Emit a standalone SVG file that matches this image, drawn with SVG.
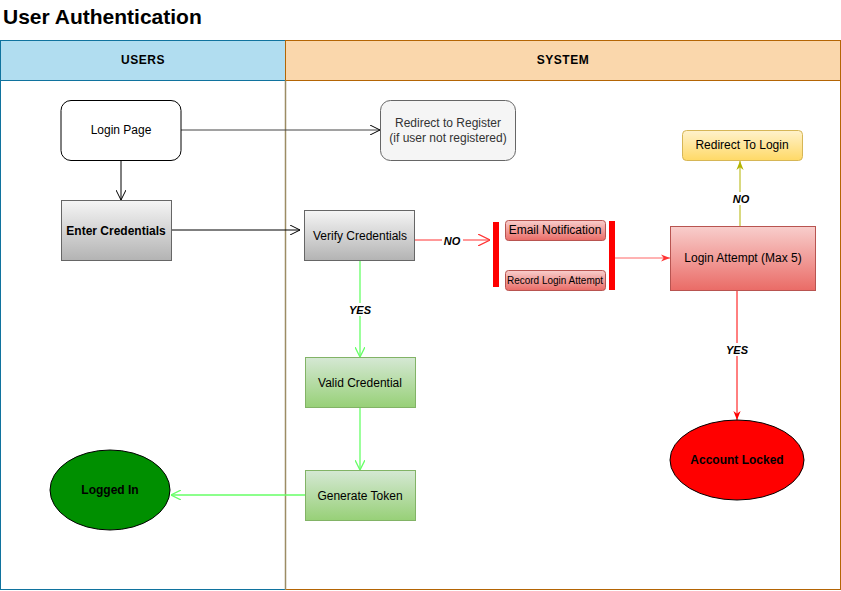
<svg xmlns="http://www.w3.org/2000/svg" width="841" height="591" viewBox="0 0 841 591">
<defs>
<linearGradient id="gGray" x1="0" y1="0" x2="0" y2="1"><stop offset="0" stop-color="#f5f5f5"/><stop offset="1" stop-color="#b3b3b3"/></linearGradient>
<linearGradient id="gRed" x1="0" y1="0" x2="0" y2="1"><stop offset="0" stop-color="#f8cecc"/><stop offset="1" stop-color="#ea6b66"/></linearGradient>
<linearGradient id="gGreen" x1="0" y1="0" x2="0" y2="1"><stop offset="0" stop-color="#d5e8d4"/><stop offset="1" stop-color="#97d077"/></linearGradient>
<linearGradient id="gYellow" x1="0" y1="0" x2="0" y2="1"><stop offset="0" stop-color="#fff2cc"/><stop offset="1" stop-color="#ffd966"/></linearGradient>
<marker id="mBlack" viewBox="0 0 10 10" refX="10" refY="5" markerWidth="10" markerHeight="10" markerUnits="userSpaceOnUse" orient="auto"><path d="M0,0 L10,5 L0,10" fill="none" stroke="#000" stroke-width="1"/></marker>
<marker id="mGreen" viewBox="0 0 10 10" refX="10" refY="5" markerWidth="10" markerHeight="10" markerUnits="userSpaceOnUse" orient="auto"><path d="M0,0 L10,5 L0,10" fill="none" stroke="#66ff66" stroke-width="1.3"/></marker>
<marker id="mRed" viewBox="0 0 10 10" refX="10" refY="5" markerWidth="12" markerHeight="12" markerUnits="userSpaceOnUse" orient="auto"><path d="M0,0 L10,5 L0,10" fill="none" stroke="#ff3333" stroke-width="1"/></marker>
<marker id="mRedF" viewBox="0 0 10 10" refX="10" refY="5" markerWidth="9" markerHeight="9" markerUnits="userSpaceOnUse" orient="auto"><path d="M0,1 L10,5 L0,9 L3,5 Z" fill="#ff3333"/></marker>
<marker id="mRedD" viewBox="0 0 10 10" refX="10" refY="5" markerWidth="9" markerHeight="9" markerUnits="userSpaceOnUse" orient="auto"><path d="M0,1 L10,5 L0,9 L3,5 Z" fill="#ff0000"/></marker>
<marker id="mOlive" viewBox="0 0 10 10" refX="10" refY="5" markerWidth="9" markerHeight="9" markerUnits="userSpaceOnUse" orient="auto"><path d="M0,1 L10,5 L0,9 L3,5 Z" fill="#b3b300"/></marker>
</defs>
<style>
text{font-family:"Liberation Sans",Arial,sans-serif;font-size:12px;fill:#000;text-anchor:middle;dominant-baseline:central}
.b{font-weight:bold}
.lbl{font-weight:bold;font-style:italic;font-size:11px}
.hdr{font-weight:bold;font-size:12px;letter-spacing:0.5px}
.conn{fill:none;stroke-width:1}
.gconn{fill:none;stroke-width:1.3;stroke:#66ff66}
</style>
<rect width="841" height="591" fill="#fff"/>
<text x="3" y="16" style="font-size:21px;font-weight:bold;text-anchor:start">User Authentication</text>

<g id="lane-users">
<rect x="0.5" y="40.5" width="285" height="40" fill="#b1ddf0" stroke="#10739e"/>
<rect x="0.5" y="80.5" width="285" height="509" fill="none" stroke="#10739e"/>
<text x="143" y="60" class="hdr">USERS</text>
</g>
<g id="lane-system">
<rect x="285.5" y="40.5" width="555" height="40" fill="#fad7ac" stroke="#b46504"/>
<rect x="285.5" y="80.5" width="555" height="509" fill="none" stroke="#b46504"/>
<text x="563" y="60" class="hdr">SYSTEM</text>
<line x1="285.5" y1="80.5" x2="285.5" y2="590" stroke="#9c8c64" stroke-width="1.5"/>
</g>

<g id="connectors">
<line class="conn" x1="121" y1="160" x2="121" y2="200" stroke="#000" marker-end="url(#mBlack)"/>
<line class="conn" x1="181" y1="130" x2="380" y2="130" stroke="#444" marker-end="url(#mBlack)"/>
<line class="conn" x1="171" y1="230" x2="300" y2="230" stroke="#000" marker-end="url(#mBlack)"/>
<line class="conn" x1="415" y1="240" x2="490" y2="240" stroke="#ff3333" marker-end="url(#mRed)"/>
<rect x="442" y="234" width="21" height="13" fill="#fff"/>
<text x="452" y="241" class="lbl">NO</text>
<line class="conn" x1="615" y1="258" x2="670" y2="258" stroke="#ff6666" marker-end="url(#mRedF)"/>
<line class="conn" x1="740" y1="226" x2="740" y2="161" stroke="#b3b300" marker-end="url(#mOlive)"/>
<rect x="730" y="192" width="21" height="13" fill="#fff"/>
<text x="741" y="199" class="lbl">NO</text>
<line class="conn" x1="737" y1="290" x2="737" y2="420" stroke="#ff0000" marker-end="url(#mRedD)"/>
<rect x="724" y="343" width="26" height="13" fill="#fff"/>
<text x="737" y="350" class="lbl">YES</text>
<line class="gconn" x1="360" y1="260" x2="360" y2="357" marker-end="url(#mGreen)"/>
<rect x="347" y="303" width="26" height="13" fill="#fff"/>
<text x="360" y="310" class="lbl">YES</text>
<line class="gconn" x1="360" y1="407" x2="360" y2="470" marker-end="url(#mGreen)"/>
<line class="gconn" x1="305" y1="495" x2="171" y2="495" marker-end="url(#mGreen)"/>
</g>

<g id="login-page">
<rect x="61" y="100.5" width="120" height="60" rx="10" fill="#fff" stroke="#000"/>
<text x="121" y="130">Login Page</text>
</g>
<g id="redirect-register">
<rect x="380.5" y="100.5" width="135" height="60" rx="10" fill="#f5f5f5" stroke="#666"/>
<text x="448" y="123" style="fill:#333">Redirect to Register</text>
<text x="448" y="138" style="fill:#333">(if user not registered)</text>
</g>
<g id="enter-credentials">
<rect x="61.5" y="200.5" width="110" height="60" fill="url(#gGray)" stroke="#666"/>
<text x="116" y="231" class="b">Enter Credentials</text>
</g>
<g id="verify-credentials">
<rect x="304.5" y="210.5" width="110" height="50" fill="url(#gGray)" stroke="#666"/>
<text x="360" y="236">Verify Credentials</text>
</g>
<g id="bar-left">
<rect x="493" y="222" width="6" height="65" fill="#ff0000"/>
</g>
<g id="email-notification">
<rect x="505.5" y="220.5" width="100" height="20" rx="3" fill="url(#gRed)" stroke="#b85450"/>
<text x="555" y="230">Email Notification</text>
</g>
<g id="record-login-attempt">
<rect x="505.5" y="270.5" width="100" height="20" rx="3" fill="url(#gRed)" stroke="#b85450"/>
<text x="555" y="280" style="font-size:10px">Record Login Attempt</text>
</g>
<g id="bar-right">
<rect x="609" y="221" width="6" height="69" fill="#ff0000"/>
</g>
<g id="login-attempt">
<rect x="670.5" y="226.5" width="145" height="64" fill="url(#gRed)" stroke="#b85450"/>
<text x="743" y="258">Login Attempt (Max 5)</text>
</g>
<g id="redirect-login">
<rect x="682.5" y="130.5" width="120" height="30" rx="4" fill="url(#gYellow)" stroke="#d6b656"/>
<text x="742" y="145">Redirect To Login</text>
</g>
<g id="account-locked">
<ellipse cx="737" cy="460" rx="67" ry="40" fill="#ff0000" stroke="#000"/>
<text x="737" y="460" class="b">Account Locked</text>
</g>
<g id="valid-credential">
<rect x="305.5" y="357.5" width="110" height="50" fill="url(#gGreen)" stroke="#82b366"/>
<text x="360" y="383">Valid Credential</text>
</g>
<g id="generate-token">
<rect x="305.5" y="470.5" width="110" height="50" fill="url(#gGreen)" stroke="#82b366"/>
<text x="360" y="496">Generate Token</text>
</g>
<g id="logged-in">
<ellipse cx="110" cy="490" rx="60" ry="40" fill="#008f00" stroke="#000"/>
<text x="110" y="490" class="b">Logged In</text>
</g>
</svg>
